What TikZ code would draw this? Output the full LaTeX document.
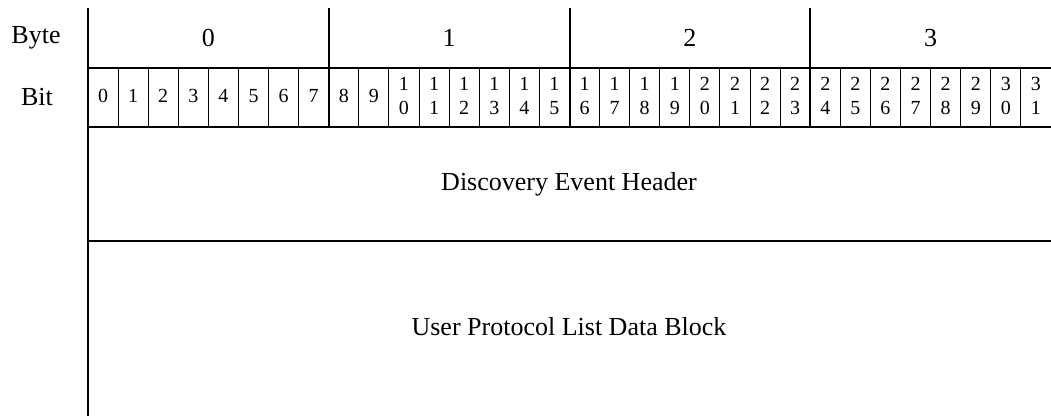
\documentclass[tikz,border=0pt]{standalone}
\usepackage{fontspec}
\setmainfont{Liberation Serif}
\begin{document}
\begin{tikzpicture}[x=1pt,y=-1pt,
  thickrule/.style={line width=2pt},
  thinrule/.style={line width=1pt},
  biglabel/.style={font=\fontsize{26}{30}\selectfont, inner sep=0pt},
  bitlabel/.style={font=\fontsize{20}{24}\selectfont, align=center, inner sep=0pt}]
\useasboundingbox (0,0) rectangle (1051,416);
\def\bw{30.09375}
% row labels
\node[biglabel] (byte) at (36,38) {Byte};
\node[biglabel] (bit) at (37,97) {Bit};
% main frame
\draw[thickrule] (88,8) -- (88,416);
\draw[thickrule] (88,68) -- (1051,68);
\draw[thickrule] (88,127) -- (1051,127);
\draw[thickrule] (88,241) -- (1051,241);
% byte separators
\foreach \k in {1,2,3} {
  \draw[thickrule] ({88+\k*8*\bw},8) -- ({88+\k*8*\bw},127);
}
% bit separators
\foreach \i in {1,...,31} {
  \pgfmathtruncatemacro\r{mod(\i,8)}
  \ifnum\r>0
    \draw[thinrule] ({88+\i*\bw},68) -- ({88+\i*\bw},127);
  \fi
}
% byte numbers
\foreach \k in {0,1,2,3} {
  \node[biglabel] (byte\k) at ({88+(\k*8+4)*\bw},38) {\k};
}
% bit numbers
\foreach \i in {0,...,31} {
  \pgfmathtruncatemacro\tens{int(\i/10)}
  \pgfmathtruncatemacro\ones{\i-10*\tens}
  \ifnum\i<10
    \node[bitlabel] (bit\i) at ({88+(\i+0.5)*\bw},96) {\i};
  \else
    \node[bitlabel] (bit\i) at ({88+(\i+0.5)*\bw},96) {\tens\\\ones};
  \fi
}
% field labels
\node[biglabel] (hdr) at (569,184) {Discovery Event Header};
\node[biglabel] (upl) at (569,327) {User Protocol List Data Block};
\end{tikzpicture}
\end{document}
